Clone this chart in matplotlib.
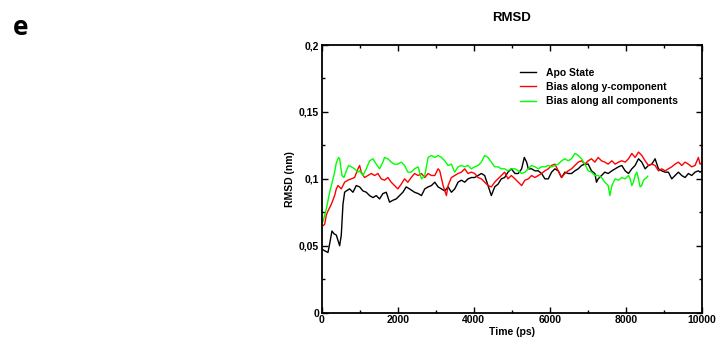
import matplotlib
matplotlib.use("Agg")
import matplotlib.pyplot as plt
from matplotlib.ticker import MultipleLocator

# ---- data ----
apo_t = [0, 35, 96, 166, 210, 271, 324, 385, 429, 473, 516, 560, 604, 648, 735, 823, 910, 998,
         1085, 1173, 1260, 1348, 1435, 1523, 1610, 1698, 1785, 1873, 1960, 2048, 2135, 2223, 2310,
         2441, 2537, 2624, 2711, 2799, 2886, 2974, 3061, 3149, 3236, 3324, 3411, 3499, 3586, 3674,
         3761, 3849, 3936, 4024, 4111, 4199, 4286, 4374, 4461, 4549, 4636, 4724, 4811, 4899, 4986,
         5083, 5170, 5258, 5328, 5389, 5433, 5520, 5608, 5695, 5783, 5870, 5958, 6045, 6133, 6220,
         6308, 6395, 6483, 6570, 6658, 6745, 6833, 6920, 7008, 7095, 7183, 7226, 7270, 7358, 7445,
         7533, 7630, 7717, 7805, 7892, 7980, 8067, 8155, 8242, 8330, 8417, 8505, 8592, 8680, 8767,
         8855, 8942, 9030, 9117, 9205, 9292, 9380, 9467, 9555, 9642, 9730, 9817, 9905, 9949, 10000]
apo_v = [0.048, 0.047, 0.046, 0.045, 0.0515, 0.061, 0.059, 0.058, 0.054, 0.050, 0.058, 0.081, 0.090,
         0.091, 0.0925, 0.090, 0.095, 0.094, 0.091, 0.090, 0.0875, 0.086, 0.0875, 0.085, 0.089, 0.090,
         0.0826, 0.084, 0.085, 0.0875, 0.090, 0.094, 0.0925, 0.090, 0.089, 0.0875, 0.0925, 0.094,
         0.095, 0.0975, 0.094, 0.0925, 0.091, 0.094, 0.090, 0.0925, 0.0975, 0.099, 0.0975, 0.100,
         0.101, 0.101, 0.1025, 0.104, 0.1025, 0.095, 0.0875, 0.094, 0.096, 0.100, 0.101, 0.105,
         0.1075, 0.104, 0.104, 0.1075, 0.116, 0.1125, 0.1075, 0.1075, 0.106, 0.106, 0.104, 0.100,
         0.100, 0.105, 0.1075, 0.106, 0.101, 0.105, 0.104, 0.104, 0.106, 0.1075, 0.110, 0.111, 0.111,
         0.106, 0.104, 0.0975, 0.100, 0.1025, 0.105, 0.104, 0.106, 0.1075, 0.109, 0.110, 0.106,
         0.104, 0.1075, 0.110, 0.115, 0.1125, 0.1075, 0.110, 0.111, 0.115, 0.1075, 0.106, 0.105,
         0.105, 0.100, 0.1025, 0.105, 0.1025, 0.101, 0.104, 0.1025, 0.105, 0.106, 0.105, 0.106]

y_t = [0, 35, 79, 123, 166, 254, 341, 385, 429, 516, 604, 691, 779, 866, 954, 998, 1041, 1129,
       1216, 1304, 1391, 1479, 1566, 1654, 1741, 1829, 1916, 2004, 2091, 2179, 2266, 2354, 2441,
       2537, 2624, 2711, 2799, 2886, 2974, 3061, 3105, 3193, 3280, 3324, 3411, 3499, 3586, 3674,
       3761, 3849, 3936, 4024, 4111, 4199, 4286, 4374, 4461, 4549, 4636, 4724, 4811, 4899, 4986,
       5083, 5170, 5258, 5345, 5433, 5520, 5608, 5695, 5783, 5870, 5958, 6045, 6133, 6220, 6308,
       6395, 6483, 6570, 6658, 6745, 6833, 6920, 7008, 7095, 7183, 7270, 7358, 7445, 7533, 7630,
       7717, 7805, 7892, 7980, 8067, 8155, 8242, 8330, 8417, 8505, 8592, 8680, 8767, 8855, 8942,
       9030, 9117, 9205, 9292, 9380, 9467, 9555, 9642, 9730, 9817, 9905, 9949, 10000]
y_v = [0.065, 0.065, 0.066, 0.073, 0.076, 0.081, 0.0875, 0.0925, 0.095, 0.0925, 0.0975, 0.099,
       0.100, 0.101, 0.1075, 0.110, 0.105, 0.101, 0.1025, 0.104, 0.1025, 0.104, 0.100, 0.099, 0.101,
       0.0975, 0.095, 0.0925, 0.096, 0.100, 0.0975, 0.101, 0.104, 0.1025, 0.104, 0.101, 0.104,
       0.1025, 0.1025, 0.1075, 0.106, 0.095, 0.0875, 0.095, 0.101, 0.1025, 0.104, 0.105, 0.1075,
       0.104, 0.105, 0.104, 0.101, 0.100, 0.0975, 0.095, 0.094, 0.0975, 0.100, 0.1025, 0.105, 0.100,
       0.1025, 0.100, 0.0975, 0.095, 0.099, 0.100, 0.1025, 0.101, 0.1025, 0.104, 0.106, 0.1075,
       0.110, 0.111, 0.106, 0.101, 0.104, 0.106, 0.1075, 0.110, 0.1125, 0.1135, 0.111, 0.1135,
       0.115, 0.1125, 0.116, 0.1135, 0.1125, 0.111, 0.1135, 0.111, 0.1125, 0.1135, 0.1125, 0.115,
       0.119, 0.116, 0.120, 0.1175, 0.1135, 0.110, 0.111, 0.110, 0.106, 0.1075, 0.106, 0.1075,
       0.109, 0.111, 0.1125, 0.110, 0.1125, 0.111, 0.109, 0.110, 0.116, 0.111, 0.112]

all_t = [0, 35, 123, 210, 298, 341, 385, 446, 473, 534, 586, 648, 709, 779, 866, 954, 998, 1085,
         1173, 1260, 1348, 1435, 1523, 1610, 1654, 1741, 1829, 1916, 2004, 2091, 2179, 2266, 2354,
         2441, 2537, 2624, 2711, 2799, 2886, 2974, 3061, 3149, 3236, 3324, 3411, 3499, 3586, 3674,
         3761, 3849, 3936, 4024, 4111, 4199, 4286, 4374, 4461, 4549, 4636, 4724, 4811, 4899, 4986,
         5083, 5170, 5258, 5345, 5433, 5520, 5608, 5695, 5783, 5870, 5958, 6045, 6133, 6220, 6308,
         6395, 6483, 6570, 6658, 6745, 6833, 6920, 7008, 7095, 7183, 7270, 7358, 7445, 7533, 7580,
         7630, 7717, 7805, 7892, 7980, 8067, 8111, 8155, 8198, 8242, 8286, 8330, 8373, 8417, 8461,
         8548, 8575]
all_v = [0.070, 0.068, 0.0776, 0.090, 0.100, 0.105, 0.112, 0.116, 0.115, 0.1025, 0.101, 0.106,
         0.110, 0.109, 0.1075, 0.105, 0.106, 0.1025, 0.1075, 0.1135, 0.115, 0.111, 0.1075, 0.1125,
         0.116, 0.115, 0.1125, 0.111, 0.111, 0.1125, 0.110, 0.105, 0.105, 0.1075, 0.109, 0.100,
         0.1025, 0.116, 0.1175, 0.116, 0.1175, 0.116, 0.1135, 0.110, 0.111, 0.105, 0.109, 0.110,
         0.109, 0.110, 0.1075, 0.109, 0.110, 0.1125, 0.1175, 0.116, 0.1125, 0.109, 0.109, 0.1075,
         0.1075, 0.106, 0.1075, 0.1075, 0.106, 0.104, 0.105, 0.1075, 0.110, 0.109, 0.1075, 0.109,
         0.109, 0.110, 0.109, 0.110, 0.111, 0.1135, 0.115, 0.1135, 0.115, 0.119, 0.1175, 0.115,
         0.111, 0.106, 0.105, 0.1025, 0.1025, 0.101, 0.0975, 0.095, 0.0875, 0.095, 0.100, 0.099,
         0.101, 0.100, 0.1025, 0.100, 0.095, 0.0975, 0.1025, 0.105, 0.100, 0.094, 0.095, 0.099,
         0.101, 0.102]

series_labels = ["Apo State", "Bias along y-component", "Bias along all components"]
x_ticks = [0, 2000, 4000, 6000, 8000, 10000]
x_ticklabels = ["0", "2000", "4000", "6000", "8000", "10000"]
y_ticks = [0, 0.05, 0.1, 0.15, 0.2]
y_ticklabels = ["0", "0,05", "0,1", "0,15", "0,2"]

# ---- figure ----
plt.rcParams['font.family'] = ['Liberation Sans', 'DejaVu Sans']
fig = plt.figure(figsize=(7.18, 3.39), dpi=100)
ax = fig.add_axes([0.448, 0.0776, 0.5297, 0.7896])

ax.plot(apo_t, apo_v, color="#000000", lw=1.0, label=series_labels[0])
ax.plot(y_t, y_v, color="#ff0000", lw=1.0, label=series_labels[1])
ax.plot(all_t, all_v, color="#00ff00", lw=1.0, label=series_labels[2])

ax.set_xlim(0, 10000)
ax.set_ylim(0, 0.2)
ax.set_xticks(x_ticks)
ax.set_xticklabels(x_ticklabels, fontweight="bold", fontsize=7.5)
ax.set_yticks(y_ticks)
ax.set_yticklabels(y_ticklabels, fontweight="bold", fontsize=7.5)
ax.xaxis.set_minor_locator(MultipleLocator(1000))
ax.yaxis.set_minor_locator(MultipleLocator(0.025))
ax.tick_params(which="both", direction="in", top=True, right=True, width=1.0)
ax.tick_params(which="major", length=4, pad=2)
ax.tick_params(which="minor", length=2.5)
for s in ax.spines.values():
    s.set_linewidth(1.3)

ax.set_xlabel("Time (ps)", fontweight="bold", fontsize=7.5, labelpad=1)
ax.set_ylabel("RMSD (nm)", fontweight="bold", fontsize=7.5, labelpad=3)
ax.set_title("RMSD", fontweight="bold", fontsize=9.5, pad=17)

leg = ax.legend(loc="upper left", bbox_to_anchor=(0.51, 0.93), frameon=False,
                prop={"weight": "bold", "size": 7.5}, handlelength=1.6,
                handletextpad=0.9, labelspacing=0.4, borderaxespad=0)

fig.text(0.018, 0.918, "e", fontsize=19, fontweight="bold",
         family=["Open Sans", "DejaVu Sans"], va="center")

fig.savefig("out.png", dpi=100)
